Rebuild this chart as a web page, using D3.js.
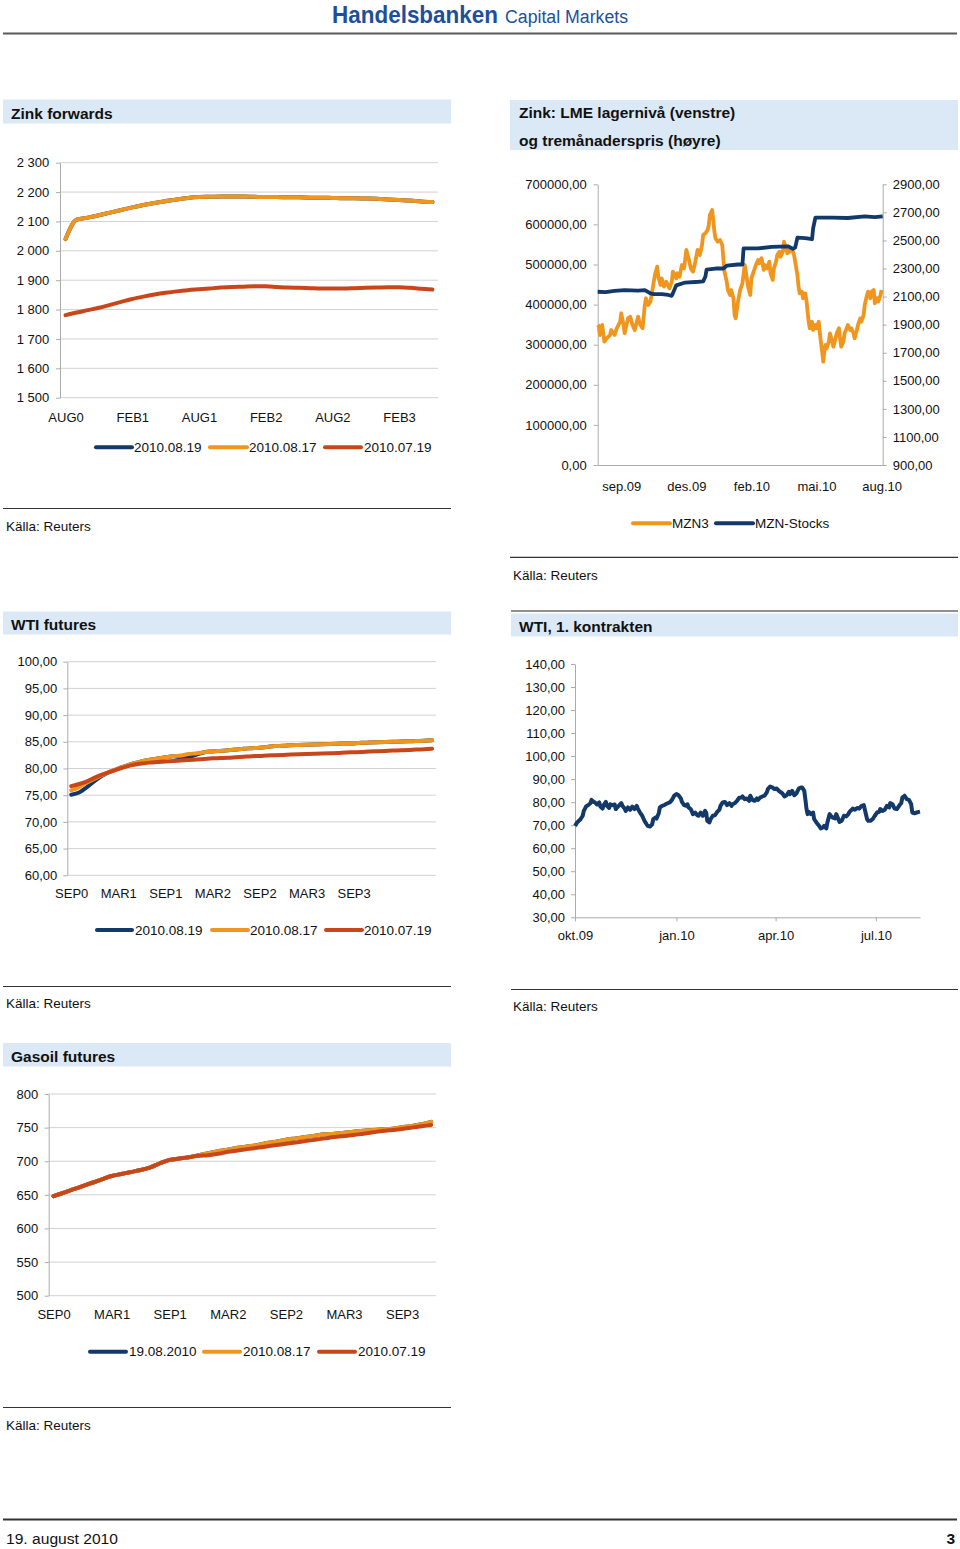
<!DOCTYPE html>
<html><head><meta charset="utf-8">
<script src="https://cdn.jsdelivr.net/npm/d3@7"></script>
<style>
body{margin:0;background:#fff}
</style></head><body>
<svg id="page" width="960" height="1549" xmlns="http://www.w3.org/2000/svg"></svg>
<script>
// ---------------- DATA ----------------
const fwdSeriesNames = ["2010.08.19", "2010.08.17", "2010.07.19"];
const gasoilSeriesNames = ["19.08.2010", "2010.08.17", "2010.07.19"];
const lmeSeriesNames = ["MZN3", "MZN-Stocks"];

// Zink forwards (monthly contracts)
const zinkFwdCats = ["AUG0","SEP0","OCT0","NOV0","DEC0","JAN1","FEB1","MAR1","APR1","MAY1","JUN1","JUL1","AUG1","SEP1","OCT1","NOV1","DEC1","JAN2","FEB2","MAR2","APR2","MAY2","JUN2","JUL2","AUG2","SEP2","OCT2","NOV2","DEC2","JAN3","FEB3","MAR3","APR3","MAY3"];
const zinkFwdTickLabels = ["AUG0","FEB1","AUG1","FEB2","AUG2","FEB3"];
const zinkFwdTicks = [1500,1600,1700,1800,1900,2000,2100,2200,2300];
const zinkFwd0819 = [2040,2106,2113,2121,2130,2139,2148,2156,2163,2169,2175,2180,2183,2184,2185,2185,2185,2184,2183,2183,2182,2182,2181,2181,2180,2179,2179,2178,2177,2175,2173,2171,2168,2166];
const zinkFwd0817 = [2040,2106,2113,2121,2130,2139,2148,2156,2163,2169,2175,2180,2183,2184,2185,2185,2185,2184,2183,2183,2182,2182,2181,2181,2180,2179,2179,2178,2177,2175,2173,2171,2168,2166];
const zinkFwd0719 = [1781,1790,1798,1806,1816,1826,1836,1844,1851,1857,1862,1866,1869,1872,1875,1877,1878,1879,1879,1877,1875,1874,1873,1872,1872,1872,1873,1874,1875,1876,1876,1874,1871,1868];

// Zink LME: [trading-day index, value]
const lmeDayMax = 254;
const lmeTickDays = [21, 79, 137, 195, 253];
const lmeTickLabels = ["sep.09","des.09","feb.10","mai.10","aug.10"];
const lmeLeftTicks = [0,100000,200000,300000,400000,500000,600000,700000];
const lmeRightTicks = [900,1100,1300,1500,1700,1900,2100,2300,2500,2700,2900];
const mzn3 = [[0,1898],[1,1890],[2,1826],[4,1898],[6,1779],[8,1803],[11,1826],[12,1862],[15,1826],[17,1874],[20,1921],[21,1981],[23,1898],[24,1838],[27,1945],[29,1957],[31,1898],[33,1862],[36,1957],[38,1898],[40,1874],[42,2040],[43,2088],[45,2040],[47,2064],[48,2111],[51,2254],[53,2313],[54,2242],[56,2183],[57,2230],[59,2171],[61,2206],[64,2159],[66,2206],[67,2278],[70,2230],[71,2266],[73,2242],[75,2325],[77,2301],[79,2432],[81,2373],[83,2301],[85,2278],[87,2349],[89,2432],[91,2396],[93,2468],[94,2539],[96,2551],[98,2575],[99,2610],[100,2681],[102,2717],[103,2646],[104,2563],[105,2515],[107,2491],[109,2503],[111,2468],[112,2373],[113,2278],[115,2206],[116,2147],[118,2111],[119,2147],[121,2088],[122,1969],[123,1945],[125,2064],[127,2147],[129,2194],[131,2325],[132,2278],[134,2171],[136,2111],[137,2230],[139,2278],[141,2325],[143,2361],[144,2337],[146,2373],[148,2290],[149,2325],[151,2301],[153,2349],[154,2266],[156,2218],[157,2301],[159,2349],[160,2396],[162,2420],[163,2384],[165,2420],[166,2491],[168,2444],[169,2408],[171,2420],[172,2444],[174,2420],[175,2396],[176,2349],[178,2254],[179,2171],[180,2123],[182,2135],[183,2088],[185,2123],[186,2076],[188,1921],[189,1874],[191,1921],[192,1862],[194,1898],[195,1874],[197,1921],[198,1838],[200,1708],[201,1636],[202,1708],[203,1755],[204,1731],[206,1779],[207,1838],[209,1779],[210,1743],[212,1803],[213,1838],[215,1874],[216,1803],[217,1743],[219,1779],[220,1838],[222,1874],[223,1898],[225,1862],[226,1874],[228,1838],[229,1803],[231,1862],[232,1898],[234,1945],[235,1921],[237,1969],[238,2040],[240,2111],[241,2135],[243,2088],[244,2135],[246,2147],[247,2052],[249,2088],[250,2064],[252,2111],[253,2147]];
const mznStocks = [[0,432000],[7,431000],[15,434000],[24,436000],[36,435000],[42,436000],[47,428000],[50,426000],[57,426000],[63,424000],[66,422000],[67,428000],[70,448000],[78,455000],[90,457000],[94,458000],[96,470000],[97,487000],[105,490000],[112,490000],[115,497000],[125,500000],[129,500000],[130,540000],[143,540000],[155,544000],[170,545000],[174,539000],[176,542000],[178,567000],[185,566000],[191,563000],[192,590000],[194,617000],[209,617000],[223,616000],[238,620000],[247,618000],[254,620000]];

// WTI futures
const wtiFutCats = ["SEP0","OCT0","NOV0","DEC0","JAN1","FEB1","MAR1","APR1","MAY1","JUN1","JUL1","AUG1","SEP1","OCT1","NOV1","DEC1","JAN2","FEB2","MAR2","APR2","MAY2","JUN2","JUL2","AUG2","SEP2","OCT2","NOV2","DEC2","JAN3","FEB3","MAR3","APR3","MAY3","JUN3","JUL3","AUG3","SEP3","OCT3","NOV3","DEC3","JAN4","FEB4","MAR4","APR4","MAY4","JUN4","JUL4"];
const futTickLabels = ["SEP0","MAR1","SEP1","MAR2","SEP2","MAR3","SEP3"];
const wtiFutTicks = [60,65,70,75,80,85,90,95,100];
const wtiFut0819 = [75.1,75.5,76.5,77.7,78.7,79.4,80.0,80.5,81.0,81.35,81.65,81.9,82.1,82.3,82.1,82.2,82.6,83.05,83.2,83.3,83.4,83.55,83.7,83.8,83.9,84.05,84.2,84.25,84.35,84.4,84.45,84.5,84.55,84.6,84.65,84.7,84.7,84.8,84.85,84.9,84.95,85.0,85.05,85.1,85.15,85.2,85.3];
const wtiFut0817 = [75.9,76.5,77.4,78.1,78.8,79.45,80.0,80.5,81.0,81.35,81.65,81.9,82.1,82.3,82.45,82.7,82.85,83.05,83.2,83.3,83.4,83.55,83.7,83.8,83.9,84.05,84.2,84.25,84.35,84.4,84.45,84.5,84.55,84.6,84.65,84.7,84.7,84.8,84.85,84.9,84.95,85.0,85.05,85.1,85.15,85.2,85.3];
const wtiFut0719 = [76.7,77.1,77.6,78.3,78.9,79.4,79.9,80.35,80.7,80.95,81.1,81.2,81.3,81.4,81.5,81.6,81.7,81.8,81.9,81.95,82.0,82.1,82.2,82.3,82.35,82.45,82.5,82.55,82.6,82.65,82.7,82.75,82.8,82.85,82.9,83.0,83.05,83.1,83.2,83.25,83.3,83.35,83.4,83.45,83.55,83.6,83.7];

// WTI, 1. kontrakten: [days since 2009-10-01, price]
const wtiStart = [2009, 9, 1];
const wtiEnd = [2010, 7, 10];
const wtiTicks = [30,40,50,60,70,80,90,100,110,120,130,140];
const wtiTickDates = [[2009,9,1],[2010,0,1],[2010,3,1],[2010,6,1]];
const wtiTickLabels = ["okt.09","jan.10","apr.10","jul.10"];
const wtiSpot = [[0,69.7],[2,71.2],[5,72.6],[7,74.1],[8,76.2],[10,78.1],[12,78.7],[14,79.6],[15,81.0],[17,80.1],[18,79.9],[20,79.0],[22,79.9],[23,78.1],[25,77.2],[26,78.7],[28,80.1],[29,78.4],[31,77.5],[32,79.1],[34,78.7],[36,79.0],[37,77.0],[39,78.1],[42,79.6],[43,78.4],[45,77.2],[46,76.2],[48,77.7],[50,76.7],[52,78.1],[54,77.0],[56,78.4],[57,77.2],[59,75.5],[61,74.1],[63,71.9],[65,70.4],[66,69.7],[68,69.4],[70,70.4],[71,72.6],[73,73.3],[74,72.9],[76,75.2],[77,77.7],[79,78.4],[81,78.7],[83,79.3],[86,79.9],[88,81.0],[90,82.8],[92,83.5],[94,83.0],[96,81.6],[97,80.1],[99,78.7],[101,78.4],[102,79.1],[103,77.7],[105,77.0],[107,74.8],[109,75.5],[111,74.3],[112,74.1],[114,75.5],[116,74.1],[118,76.2],[119,75.5],[120,71.9],[122,71.2],[123,72.6],[125,74.1],[127,74.3],[129,75.8],[131,76.7],[132,78.4],[134,79.9],[136,80.1],[138,78.7],[140,79.6],[142,78.4],[143,79.1],[145,79.6],[147,80.6],[149,81.9],[151,82.0],[152,82.5],[154,81.3],[156,81.6],[158,80.6],[159,82.8],[161,81.0],[163,80.6],[165,81.6],[166,81.0],[168,82.0],[170,82.5],[172,82.8],[174,84.2],[175,85.7],[177,86.8],[179,86.4],[181,85.7],[183,85.9],[185,84.9],[186,84.5],[188,83.9],[190,82.5],[192,83.0],[194,84.5],[195,83.5],[197,84.9],[199,83.0],[201,83.9],[203,85.9],[205,86.4],[206,86.4],[208,84.9],[209,81.3],[210,77.2],[211,74.8],[212,75.8],[214,74.8],[216,75.5],[217,72.6],[219,71.2],[221,70.0],[223,68.6],[225,69.0],[226,69.7],[228,68.6],[229,71.2],[231,74.8],[232,74.1],[234,73.3],[236,72.9],[237,74.8],[239,72.6],[240,71.4],[242,71.9],[244,74.1],[246,73.8],[248,74.8],[249,75.8],[251,76.7],[252,77.2],[254,76.7],[256,77.5],[258,77.2],[260,78.4],[262,78.7],[263,76.7],[265,72.6],[266,71.9],[268,71.9],[270,72.6],[272,74.1],[274,75.5],[276,75.8],[277,77.0],[279,76.2],[281,76.7],[283,78.4],[285,77.7],[286,79.6],[288,79.1],[290,77.2],[292,77.0],[294,78.4],[296,79.6],[297,82.0],[299,82.8],[301,81.3],[303,81.0],[305,79.1],[306,75.5],[308,75.2],[310,75.5],[312,75.8],[313,75.9]];

// Gasoil futures
const gasoilCats = wtiFutCats.slice(0, 40);
const gasoilTicks = [500,550,600,650,700,750,800];
const gasoil0817 = [648,653,658,663,668,673,678,681,684,687,691,697,702,704,706,709,712,715,717,720,722,724,727,729,732,734,736,738,740,741,742.5,744,745.5,746.5,747.5,748.5,750.5,752.5,755,758.5];
const gasoil0819 = [648,653,658,663,668,673,678,681,684,687,691,697,702,704,706,709,712,715,717,720,722,724,727,729,732,734,736,738,740,741,742.5,744,745.5,746.5,747.5,748.5,750.5,752.5,755,758.5];
const gasoil0719 = [648,653,658,663,668,673,678,681,684,687,691,697,702,704,706,708,709,711,714,716,718,720,722,724,726,728,730,732,734,736,737.5,739,741,743,745,746.5,748,750,752,754];

// ---------------- STYLE / HELPERS ----------------
const FONT = "'Liberation Sans', Arial, Helvetica, sans-serif";
const NARROW = "'Liberation Sans Narrow', 'Arial Narrow', 'Liberation Sans', Arial, sans-serif";
const C = {blue:"#12396a", orange:"#f0961e", red:"#c9461b", grid:"#d2d2d2", axis:"#ababab",
           title:"#dbe8f6", text:"#111111", brand:"#1d4f9c"};
const seriesColors = [C.blue, C.orange, C.red];
const loc = d3.formatLocale({decimal:",", thousands:"\u00a0", grouping:[3], currency:["",""]});
const fmtThousands = v => loc.format(",")(v).replace(/\u00a0/g, " ");
const fmt2 = loc.format(".2f");
const fmt0 = d3.format("d");

const svg = d3.select("#page");
svg.append("rect").attr("width", 960).attr("height", 1549).attr("fill", "#fff");

function hline(x1, x2, y, color, w) {
  svg.append("line").attr("x1", x1).attr("x2", x2).attr("y1", y).attr("y2", y)
    .attr("stroke", color).attr("stroke-width", w);
}
function txt(x, y, s, o = {}) {
  const t = svg.append("text").attr("x", x).attr("y", y).text(s)
    .attr("font-family", o.family || FONT).attr("font-size", o.size || 13.5)
    .attr("font-weight", o.weight || "normal").attr("fill", o.fill || C.text)
    .attr("text-anchor", o.anchor || "start");
  if (o.dy) t.attr("dy", o.dy);
  if (o.len) t.attr("textLength", o.len).attr("lengthAdjust", "spacingAndGlyphs");
  return t;
}
function titleBox(x, y, w, h, lines) {
  svg.append("rect").attr("x", x).attr("y", y).attr("width", w).attr("height", h).attr("fill", C.title);
  lines.forEach(l => txt(l[0], l[1], l[2], {size: 15.5, weight: "bold"}));
}
function legend(cy, items) {
  items.forEach(it => {
    svg.append("line").attr("x1", it.x1).attr("x2", it.x2).attr("y1", cy).attr("y2", cy)
      .attr("stroke", it.color).attr("stroke-width", 4).attr("stroke-linecap", "round");
    txt(it.tx, cy, it.label, {dy: "0.35em", size: 13.5});
  });
}
function source(x1, x2, y, tx, ty) {
  hline(x1, x2, y, "#333", 1.2);
  txt(tx, ty, "Källa: Reuters", {dy: "0.35em", size: 13.5});
}
function styleAxis(g, fs) {
  g.attr("font-family", FONT).attr("font-size", fs);
  g.select(".domain").attr("stroke", C.axis);
  g.selectAll(".tick line").attr("stroke", C.axis);
  g.selectAll(".tick text").attr("fill", C.text);
}

// futures style chart (category axis, gridlines)
function futuresChart(cfg) {
  const x = d3.scalePoint().domain(cfg.cats).range(cfg.xRange).padding(0.5);
  const y = d3.scaleLinear().domain(cfg.yDomain).range(cfg.yRange);
  const g = svg.append("g");
  g.selectAll("line.grid").data(cfg.yTicks).join("line").attr("class", "grid")
    .attr("x1", cfg.xRange[0]).attr("x2", cfg.xRange[1])
    .attr("y1", d => y(d)).attr("y2", d => y(d))
    .attr("stroke", C.grid).attr("stroke-width", 1);
  const ya = g.append("g").attr("transform", `translate(${cfg.xRange[0]},0)`)
    .call(d3.axisLeft(y).tickValues(cfg.yTicks).tickFormat(cfg.yFmt).tickSize(4).tickSizeOuter(0).tickPadding(cfg.yPad));
  styleAxis(ya, 13);
  const xa = g.append("g").attr("transform", `translate(0,${cfg.yRange[0]})`)
    .call(d3.axisBottom(x).tickValues(cfg.tickLabels).tickSize(0));
  styleAxis(xa, 13);
  xa.select(".domain").remove();
  xa.selectAll(".tick text").attr("y", cfg.xLabOff).attr("dy", "0.35em");
  const line = d3.line().x((d, i) => x(cfg.cats[i])).y(d => y(d)).curve(d3.curveMonotoneX);
  cfg.series.forEach((s, k) => {
    g.append("path").datum(s).attr("d", line).attr("fill", "none")
      .attr("stroke", seriesColors[k]).attr("stroke-width", 4)
      .attr("stroke-linejoin", "round").attr("stroke-linecap", "round");
  });
}

// ---------------- HEADER ----------------
txt(332, 23, "Handelsbanken", {family: NARROW, size: 24, weight: "bold", fill: C.brand, len: 166});
txt(505, 23, "Capital Markets", {family: NARROW, size: 18, fill: C.brand, len: 123});
hline(3, 957, 33.5, "#5a5a5a", 2);

// ---------------- ZINK FORWARDS ----------------
titleBox(3, 99.5, 448, 24, [[11, 118.5, "Zink forwards"]]);
futuresChart({cats: zinkFwdCats, series: [zinkFwd0819, zinkFwd0817, zinkFwd0719],
  xRange: [60, 438], yRange: [397.7, 162.7], yDomain: [1500, 2300], yTicks: zinkFwdTicks,
  yFmt: fmtThousands, yPad: 6.7, tickLabels: zinkFwdTickLabels, xLabOff: 20});
legend(447.3, [
  {x1: 96, x2: 132, tx: 134, label: fwdSeriesNames[0], color: C.blue},
  {x1: 210, x2: 247, tx: 249, label: fwdSeriesNames[1], color: C.orange},
  {x1: 325, x2: 361, tx: 364, label: fwdSeriesNames[2], color: C.red}]);
source(3, 451, 508.5, 6, 526);

// ---------------- ZINK LME ----------------
titleBox(510, 100, 448, 50, [[519, 118, "Zink: LME lagernivå (venstre)"], [519, 145.5, "og tremånaderspris (høyre)"]]);
(function () {
  const xR = [597.7, 882.7], yR = [465, 184.3];
  const x = d3.scaleLinear().domain([0, lmeDayMax]).range(xR);
  const yL = d3.scaleLinear().domain([0, 700000]).range(yR);
  const yRt = d3.scaleLinear().domain([900, 2900]).range(yR);
  const g = svg.append("g");
  const la = g.append("g").attr("transform", `translate(${xR[0]},0)`)
    .call(d3.axisLeft(yL).tickValues(lmeLeftTicks).tickFormat(fmt2).tickSize(4).tickSizeOuter(0).tickPadding(7));
  styleAxis(la, 13);
  const ra = g.append("g").attr("transform", `translate(${xR[1]},0)`)
    .call(d3.axisRight(yRt).tickValues(lmeRightTicks).tickFormat(fmt2).tickSize(4).tickSizeOuter(0).tickPadding(6));
  styleAxis(ra, 13);
  const ba = g.append("g").attr("transform", `translate(0,${yR[0]})`)
    .call(d3.axisBottom(x).tickValues(lmeTickDays).tickFormat((d, i) => lmeTickLabels[i]).tickSize(0).tickSizeOuter(0));
  styleAxis(ba, 13);
  ba.selectAll(".tick text").attr("y", 21).attr("dy", "0.35em");
  g.append("path").datum(mzn3).attr("fill", "none").attr("stroke", C.orange).attr("stroke-width", 3.8)
    .attr("stroke-linejoin", "round").attr("d", d3.line().x(d => x(d[0])).y(d => yRt(d[1])));
  g.append("path").datum(mznStocks).attr("fill", "none").attr("stroke", C.blue).attr("stroke-width", 3.8)
    .attr("stroke-linejoin", "round").attr("d", d3.line().x(d => x(d[0])).y(d => yL(d[1])));
})();
legend(523.3, [
  {x1: 633, x2: 670, tx: 672, label: lmeSeriesNames[0], color: C.orange},
  {x1: 716, x2: 753, tx: 755, label: lmeSeriesNames[1], color: C.blue}]);
source(510, 958, 557.3, 513, 575);

// ---------------- WTI FUTURES ----------------
titleBox(3, 611.5, 448, 23, [[11, 629.5, "WTI futures"]]);
futuresChart({cats: wtiFutCats, series: [wtiFut0819, wtiFut0817, wtiFut0719],
  xRange: [67.3, 436], yRange: [875.3, 661.7], yDomain: [60, 100], yTicks: wtiFutTicks,
  yFmt: fmt2, yPad: 6, tickLabels: futTickLabels, xLabOff: 18.4});
legend(930, [
  {x1: 97, x2: 132, tx: 135, label: fwdSeriesNames[0], color: C.blue},
  {x1: 212, x2: 248, tx: 250, label: fwdSeriesNames[1], color: C.orange},
  {x1: 326, x2: 362, tx: 364, label: fwdSeriesNames[2], color: C.red}]);
source(3, 451, 986.5, 6, 1003);

// ---------------- WTI, 1. KONTRAKTEN ----------------
hline(511, 958, 611, "#222", 1.2);
titleBox(511, 613.5, 447, 23, [[519, 631.5, "WTI, 1. kontrakten"]]);
(function () {
  const base = new Date(...wtiStart);
  const xR = [575, 920], yR = [917.3, 664];
  const x = d3.scaleTime().domain([base, new Date(...wtiEnd)]).range(xR);
  const y = d3.scaleLinear().domain([30, 140]).range(yR);
  const g = svg.append("g");
  const la = g.append("g").attr("transform", `translate(${xR[0]},0)`)
    .call(d3.axisLeft(y).tickValues(wtiTicks).tickFormat(fmt2).tickSize(4).tickSizeOuter(0).tickPadding(6));
  styleAxis(la, 13);
  const tickDates = wtiTickDates.map(d => new Date(...d));
  const ba = g.append("g").attr("transform", `translate(0,${yR[0]})`)
    .call(d3.axisBottom(x).tickValues(tickDates).tickFormat((d, i) => wtiTickLabels[i]).tickSize(4).tickSizeOuter(0));
  styleAxis(ba, 13);
  ba.selectAll(".tick text").attr("y", 18.4).attr("dy", "0.35em");
  g.append("path").datum(wtiSpot).attr("fill", "none").attr("stroke", C.blue).attr("stroke-width", 4)
    .attr("stroke-linejoin", "round")
    .attr("d", d3.line().x(d => x(d3.timeDay.offset(base, d[0]))).y(d => y(d[1])));
})();
source(511, 958, 989.5, 513, 1006);

// ---------------- GASOIL FUTURES ----------------
titleBox(3, 1043, 448, 23.5, [[11, 1061.5, "Gasoil futures"]]);
futuresChart({cats: gasoilCats, series: [gasoil0819, gasoil0817, gasoil0719],
  xRange: [48.7, 436], yRange: [1295.7, 1094], yDomain: [500, 800], yTicks: gasoilTicks,
  yFmt: fmt0, yPad: 6.4, tickLabels: futTickLabels, xLabOff: 18.6});
legend(1351.7, [
  {x1: 90, x2: 126, tx: 129, label: gasoilSeriesNames[0], color: C.blue},
  {x1: 204, x2: 240, tx: 243, label: gasoilSeriesNames[1], color: C.orange},
  {x1: 319, x2: 355, tx: 358, label: gasoilSeriesNames[2], color: C.red}]);
source(3, 451, 1407.5, 6, 1425);

// ---------------- FOOTER ----------------
hline(3, 957, 1519.5, "#333", 2);
txt(6, 1538.5, "19. august 2010", {dy: "0.35em", size: 15.5, family: NARROW, len: 112});
txt(955, 1538.5, "3", {dy: "0.35em", size: 15.5, family: NARROW, weight: "bold", anchor: "end"});
</script></body></html>
